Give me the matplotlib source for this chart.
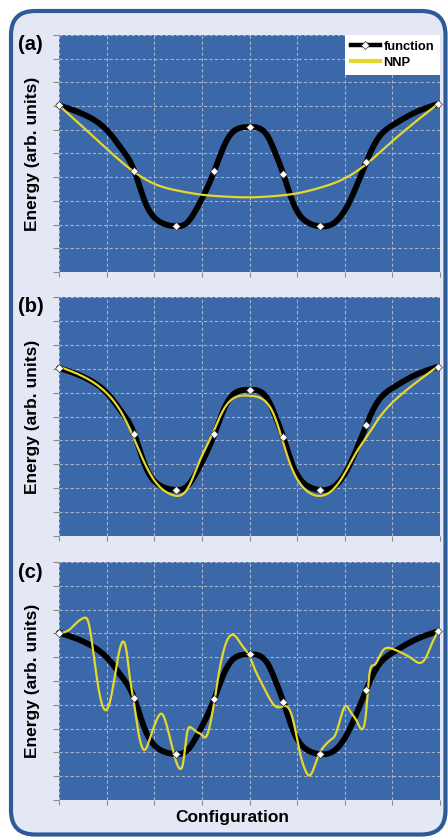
import numpy as np
import matplotlib
matplotlib.use("Agg")
import matplotlib.pyplot as plt
from matplotlib.patches import FancyBboxPatch
from matplotlib.lines import Line2D

plt.rcParams['font.family'] = ['Liberation Sans', 'DejaVu Sans']

# ---------------- data ----------------
# sampled configurations of the reference function (markers)
sample_x = [0.0, 1.58, 2.46, 3.26, 4.0, 4.71, 5.47, 6.45, 7.95]
sample_y = [7.03, 4.27, 1.93, 4.25, 6.12, 4.13, 1.93, 4.63, 7.08]

# reference function curve (black)
func_x = [0.0, 0.62, 1.10, 1.28, 1.58, 1.80, 2.15, 2.46, 2.70, 2.90, 3.26,
          3.45, 3.59, 3.80, 4.0, 4.22, 4.39, 4.53, 4.71, 4.85, 5.02, 5.23,
          5.47, 5.77, 6.05, 6.45, 6.67, 7.01, 7.52, 7.95]
func_y = [7.03, 6.55, 5.77, 5.29, 4.27, 2.99, 2.08, 1.93, 2.10, 2.71, 4.25,
          5.25, 5.77, 6.08, 6.12, 6.05, 5.70, 5.08, 4.13, 3.27, 2.50, 2.08,
          1.93, 2.06, 2.77, 4.63, 5.55, 6.20, 6.77, 7.08]

# NNP fit, panel (a): too simple
nnp_a_x = [0.0, 0.5, 1.0, 1.58, 2.0, 2.5, 3.0, 3.5, 4.0, 4.5, 5.0, 5.47, 5.97,
           6.45, 6.96, 7.46, 7.95]
nnp_a_y = [7.03, 6.12, 5.2, 4.22, 3.72, 3.43, 3.26, 3.18, 3.15, 3.2, 3.32,
           3.55, 3.92, 4.55, 5.45, 6.3, 7.08]

# NNP fit, panel (b): good fit
nnp_b_x = [0.0, 0.51, 0.99, 1.28, 1.53, 1.77, 2.05, 2.34, 2.51, 2.68, 2.96,
           3.21, 3.45, 3.66, 4.0, 4.30, 4.50, 4.67, 4.85, 5.06, 5.31, 5.48,
           5.70, 5.98, 6.25, 6.46, 6.74, 7.02, 7.45, 7.95]
nnp_b_y = [7.09, 6.67, 6.0, 5.27, 4.29, 3.17, 2.20, 1.75, 1.68, 1.92, 3.17,
           4.22, 5.27, 5.76, 5.87, 5.69, 5.13, 4.15, 3.03, 2.20, 1.75, 1.68,
           1.85, 2.55, 3.52, 4.15, 4.99, 5.62, 6.35, 7.09]

# NNP fit, panel (c): overfitted
nnp_c_x = [0.0, 0.2, 0.37, 0.52, 0.62, 0.72, 0.83, 0.97, 1.07, 1.21, 1.35,
           1.42, 1.49, 1.56, 1.63, 1.70, 1.79, 1.91, 2.05, 2.16, 2.26, 2.40,
           2.54, 2.61, 2.68, 2.76, 2.86, 3.0, 3.08, 3.17, 3.27, 3.35, 3.49,
           3.70, 3.84, 4.0, 4.09, 4.27, 4.44, 4.58, 4.72, 4.86, 4.97, 5.07,
           5.17, 5.26, 5.35, 5.45, 5.56, 5.70, 5.80, 5.91, 6.02, 6.12, 6.26,
           6.40, 6.45, 6.50, 6.61, 6.78, 6.99, 7.20, 7.41, 7.59, 7.69, 7.83,
           7.95]
nnp_c_y = [7.02, 7.13, 7.45, 7.65, 7.45, 6.22, 4.69, 3.78, 4.13, 5.66, 6.66,
           6.22, 5.10, 4.27, 3.29, 2.52, 2.10, 2.59, 3.36, 3.62, 3.15, 2.03,
           1.31, 1.61, 2.73, 3.06, 2.90, 2.73, 2.64, 3.15, 4.24, 5.24, 6.50,
           6.89, 6.50, 6.05, 5.60, 4.85, 4.20, 3.90, 3.95, 3.71, 2.87, 1.89,
           1.26, 1.03, 1.33, 1.89, 2.24, 2.52, 2.73, 3.43, 3.95, 3.71, 3.29,
           3.08, 3.71, 4.97, 5.66, 6.22, 6.36, 6.18, 5.94, 5.76, 5.94, 6.57,
           7.06]

panel_labels = ['(a)', '(b)', '(c)']
legend_labels = ['function', 'NNP']
ylabel_text = 'Energy (arb. units)'
xlabel_text = 'Configuration'

# ---------------- style ----------------
W, H = 448, 838
BG = '#e3e8f4'
BORDER = '#2f5a98'
PLOT_BG = '#3b68a8'
GRID = '#a3b1c9'
YELLOW = '#e6d72c'
TICK = '#8a8a8a'


def smooth(x, y, n=30):
    """Natural cubic spline through the points (drawing only)."""
    x = np.asarray(x, float)
    y = np.asarray(y, float)
    N = len(x)
    h = np.diff(x)
    A = np.zeros((N, N))
    b = np.zeros(N)
    A[0, 0] = 1.0
    A[-1, -1] = 1.0
    for i in range(1, N - 1):
        A[i, i - 1] = h[i - 1]
        A[i, i] = 2 * (h[i - 1] + h[i])
        A[i, i + 1] = h[i]
        b[i] = 6 * ((y[i + 1] - y[i]) / h[i] - (y[i] - y[i - 1]) / h[i - 1])
    M = np.linalg.solve(A, b)
    t = np.linspace(0, 1, n, endpoint=False)
    xs, ys = [], []
    for i in range(N - 1):
        hi = h[i]
        xx = x[i] + t * hi
        a = x[i + 1] - xx
        c = xx - x[i]
        yy = (M[i] * a**3 / (6 * hi) + M[i + 1] * c**3 / (6 * hi)
              + (y[i] / hi - M[i] * hi / 6) * a
              + (y[i + 1] / hi - M[i + 1] * hi / 6) * c)
        xs.append(xx)
        ys.append(yy)
    xs.append([x[-1]])
    ys.append([y[-1]])
    return np.concatenate(xs), np.concatenate(ys)


fig = plt.figure(figsize=(W / 100, H / 100), dpi=100)
fig.patch.set_facecolor('white')

# rounded background frame (inches coordinates -> isotropic rounding)
frame = FancyBboxPatch((11 / 100, (H - 834.5) / 100), (445.5 - 11) / 100,
                       (834.5 - 11) / 100,
                       boxstyle="round,pad=0,rounding_size=0.24",
                       transform=fig.dpi_scale_trans,
                       facecolor=BG, edgecolor=BORDER, linewidth=3.0,
                       zorder=-10)
fig.patches.append(frame)

panels = [  # top, bottom in pixels
    (35, 272),
    (297, 536),
    (562, 800),
]
nnp_data = [(nnp_a_x, nnp_a_y), (nnp_b_x, nnp_b_y), (nnp_c_x, nnp_c_y)]

left, right = 59, 440
fx, fy = smooth(func_x, func_y)
for k, ((top, bot), (nx, ny)) in enumerate(zip(panels, nnp_data)):
    ax = fig.add_axes([left / W, 1 - bot / H, (right - left) / W, (bot - top) / H])
    ax.set_facecolor(PLOT_BG)
    ax.set_xlim(0, 8)
    ax.set_ylim(0, 10)
    ax.set_xticks(np.arange(0, 9))
    ax.set_yticks(np.arange(0, 11))
    ax.set_xticklabels([])
    ax.set_yticklabels([])
    ax.grid(True, color=GRID, linestyle=(0, (3, 2)), linewidth=0.8)
    ax.set_axisbelow(True)
    for s in ax.spines.values():
        s.set_visible(False)
    ax.tick_params(axis='both', direction='out', color=TICK, width=0.8)
    ax.tick_params(axis='y', length=4)
    ax.tick_params(axis='x', length=3.5)

    ax.plot(fx, fy, color='black', lw=4.2, solid_capstyle='round', zorder=3,
            clip_on=False)
    sx, sy = smooth(nx, ny)
    ax.plot(sx, sy, color=YELLOW, lw=1.6, zorder=4, clip_on=False)
    ax.plot(sample_x, sample_y, linestyle='none', marker='D', ms=3.6,
            mfc='white', mec='#333333', mew=0.5, zorder=5, clip_on=False)

    fig.text(18 / W, 1 - (top + 0.5) / H, panel_labels[k], fontsize=14.5,
             fontweight='bold', ha='left', va='top')
    fig.text(33 / W, 1 - ((top + bot) / 2) / H, ylabel_text, fontsize=12.5,
             fontweight='bold', rotation=90, ha='center', va='center')

    if k == 0:
        handles = [
            Line2D([], [], color='black', lw=3.2, marker='D', ms=4.2,
                   mfc='white', mec='#333333', mew=0.5),
            Line2D([], [], color=YELLOW, lw=3.0),
        ]
        leg = ax.legend(handles, legend_labels, loc='upper right',
                        borderaxespad=0, frameon=True, fancybox=False,
                        framealpha=1, facecolor='white', edgecolor='none',
                        prop={'weight': 'bold', 'size': 9.3},
                        handlelength=2.3, handletextpad=0.25,
                        labelspacing=0.3, borderpad=0.45)
        leg.set_zorder(10)

fig.text(232 / W, 1 - 817 / H, xlabel_text, fontsize=12.5, fontweight='bold',
         ha='center', va='center')

fig.savefig('out.png', dpi=100)
